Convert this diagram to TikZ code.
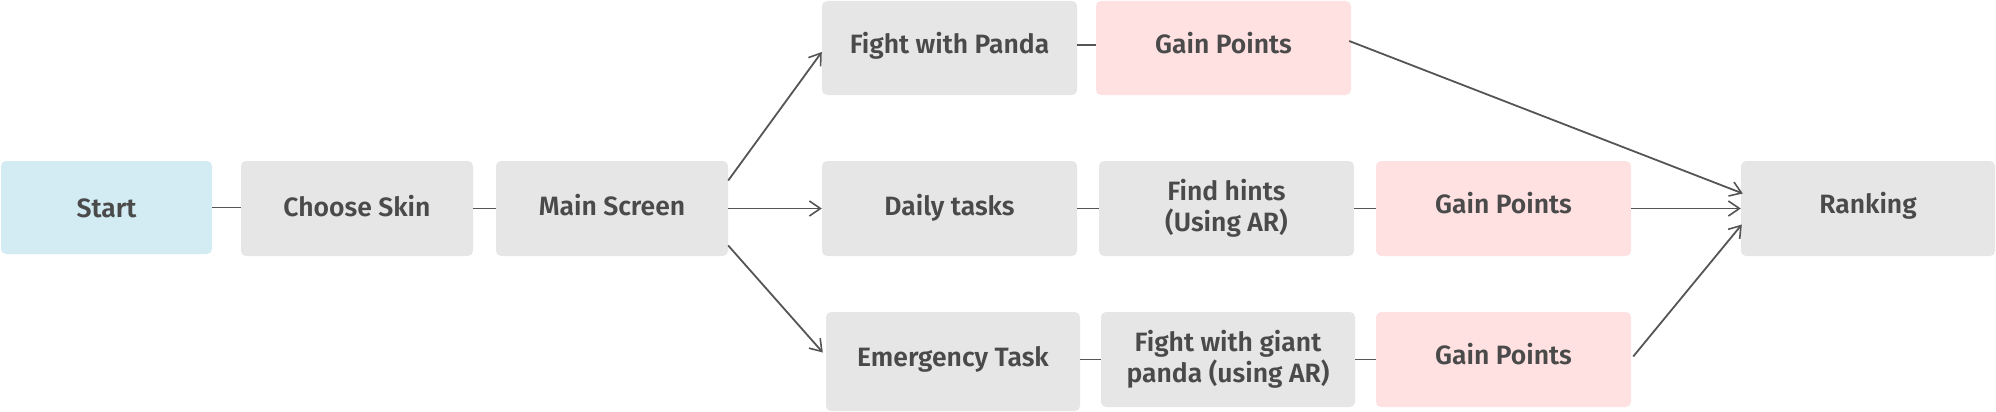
\documentclass[tikz,border=0pt]{standalone}
\usepackage{fontspec}
\setmainfont{Fira Sans}[BoldFont={Fira Sans SemiBold}]
\usetikzlibrary{arrows.meta,calc}
\definecolor{txt}{HTML}{4A4A4A}
\definecolor{ln}{HTML}{555555}
\definecolor{greyfill}{HTML}{E6E6E6}
\definecolor{bluefill}{HTML}{D3EBF3}
\definecolor{pinkfill}{HTML}{FFE1E1}
\newcommand\upby[2]{\raisebox{#1}[\height][\depth]{#2}}
\begin{document}
\begin{tikzpicture}[x=1pt,y=-1pt,
  box/.style={rounded corners=5pt, draw=none, fill=greyfill, text=txt,
    font=\fontsize{26.5}{31}\selectfont\bfseries, align=center,
    minimum width=254pt, minimum height=95pt, inner sep=0pt},
  one/.style={text height=18pt, text depth=8pt},
  bluebox/.style={box, fill=bluefill},
  pinkbox/.style={box, fill=pinkfill},
  link/.style={draw=ln, line width=1.8pt},
  arr/.style={link, -{Straight Barb[length=11pt,width=15pt,line width=1.6pt]}}]
\useasboundingbox (0,0) rectangle (1996,412);
\node[bluebox, one, minimum width=211pt, minimum height=93pt] (start) at (106.5,207.5) {\upby{-5pt}{Start}};
\node[box, one, minimum width=232pt] (choose) at (357,208.5) {\upby{-2.5pt}{Choose Skin}};
\node[box, one, minimum width=232pt] (main) at (612,208.5) {\upby{-1.5pt}{Main Screen}};
\node[box, one, minimum width=255pt, minimum height=94pt] (fwp) at (949.5,48) {Fight with Panda};
\node[pinkbox, one, minimum width=255pt, minimum height=94pt] (gain1) at (1223.5,48) {Gain Points};
\node[box, one, minimum width=255pt] (daily) at (949.5,208.5) {\upby{-1.5pt}{Daily tasks}};
\node[box, minimum width=255pt] (hints) at (1226.5,208.5) {Find hints\\(Using AR)};
\node[pinkbox, one, minimum width=255pt] (gain2) at (1503.5,208.5) {Gain Points};
\node[box, one, minimum height=99pt] (emerg) at (953,361.5) {Emergency Task};
\node[box] (giant) at (1228,359.5) {Fight with giant\\panda (using AR)};
\node[pinkbox, one, minimum width=255pt] (gain3) at (1503.5,359.5) {Gain Points};
\node[box, one] (rank) at (1868,208.5) {Ranking};
% plain links
\draw[link] (start.east) -- (start.east -| choose.west);
\draw[link] (choose.east) -- (choose.east -| main.west);
\draw[link] ($(fwp.east)+(0,-3)$) -- ($(fwp.east -| gain1.west)+(0,-3)$);
\draw[link] (daily.east) -- (daily.east -| hints.west);
\draw[link] (hints.east) -- (hints.east -| gain2.west);
\draw[link] (giant.west -| emerg.east) -- (giant.west);
\draw[link] (giant.east) -- (giant.east -| gain3.west);
% arrows
\draw[arr] ($(main.east)+(0,-28)$) -- ($(fwp.west)+(0,4)$);
\draw[arr] (main.east) -- (main.east -| daily.west);
\draw[arr] ($(main.east)+(0,37)$) -- ($(emerg.west)+(-3,-9)$);
\draw[arr] ($(gain1.east)+(-2,-7)$) -- ($(rank.west)+(2,-15)$);
\draw[arr] (gain2.east) -- (rank.west);
\draw[arr] ($(gain3.east)+(2,-3)$) -- ($(rank.west)+(1,16)$);
\end{tikzpicture}
\end{document}
